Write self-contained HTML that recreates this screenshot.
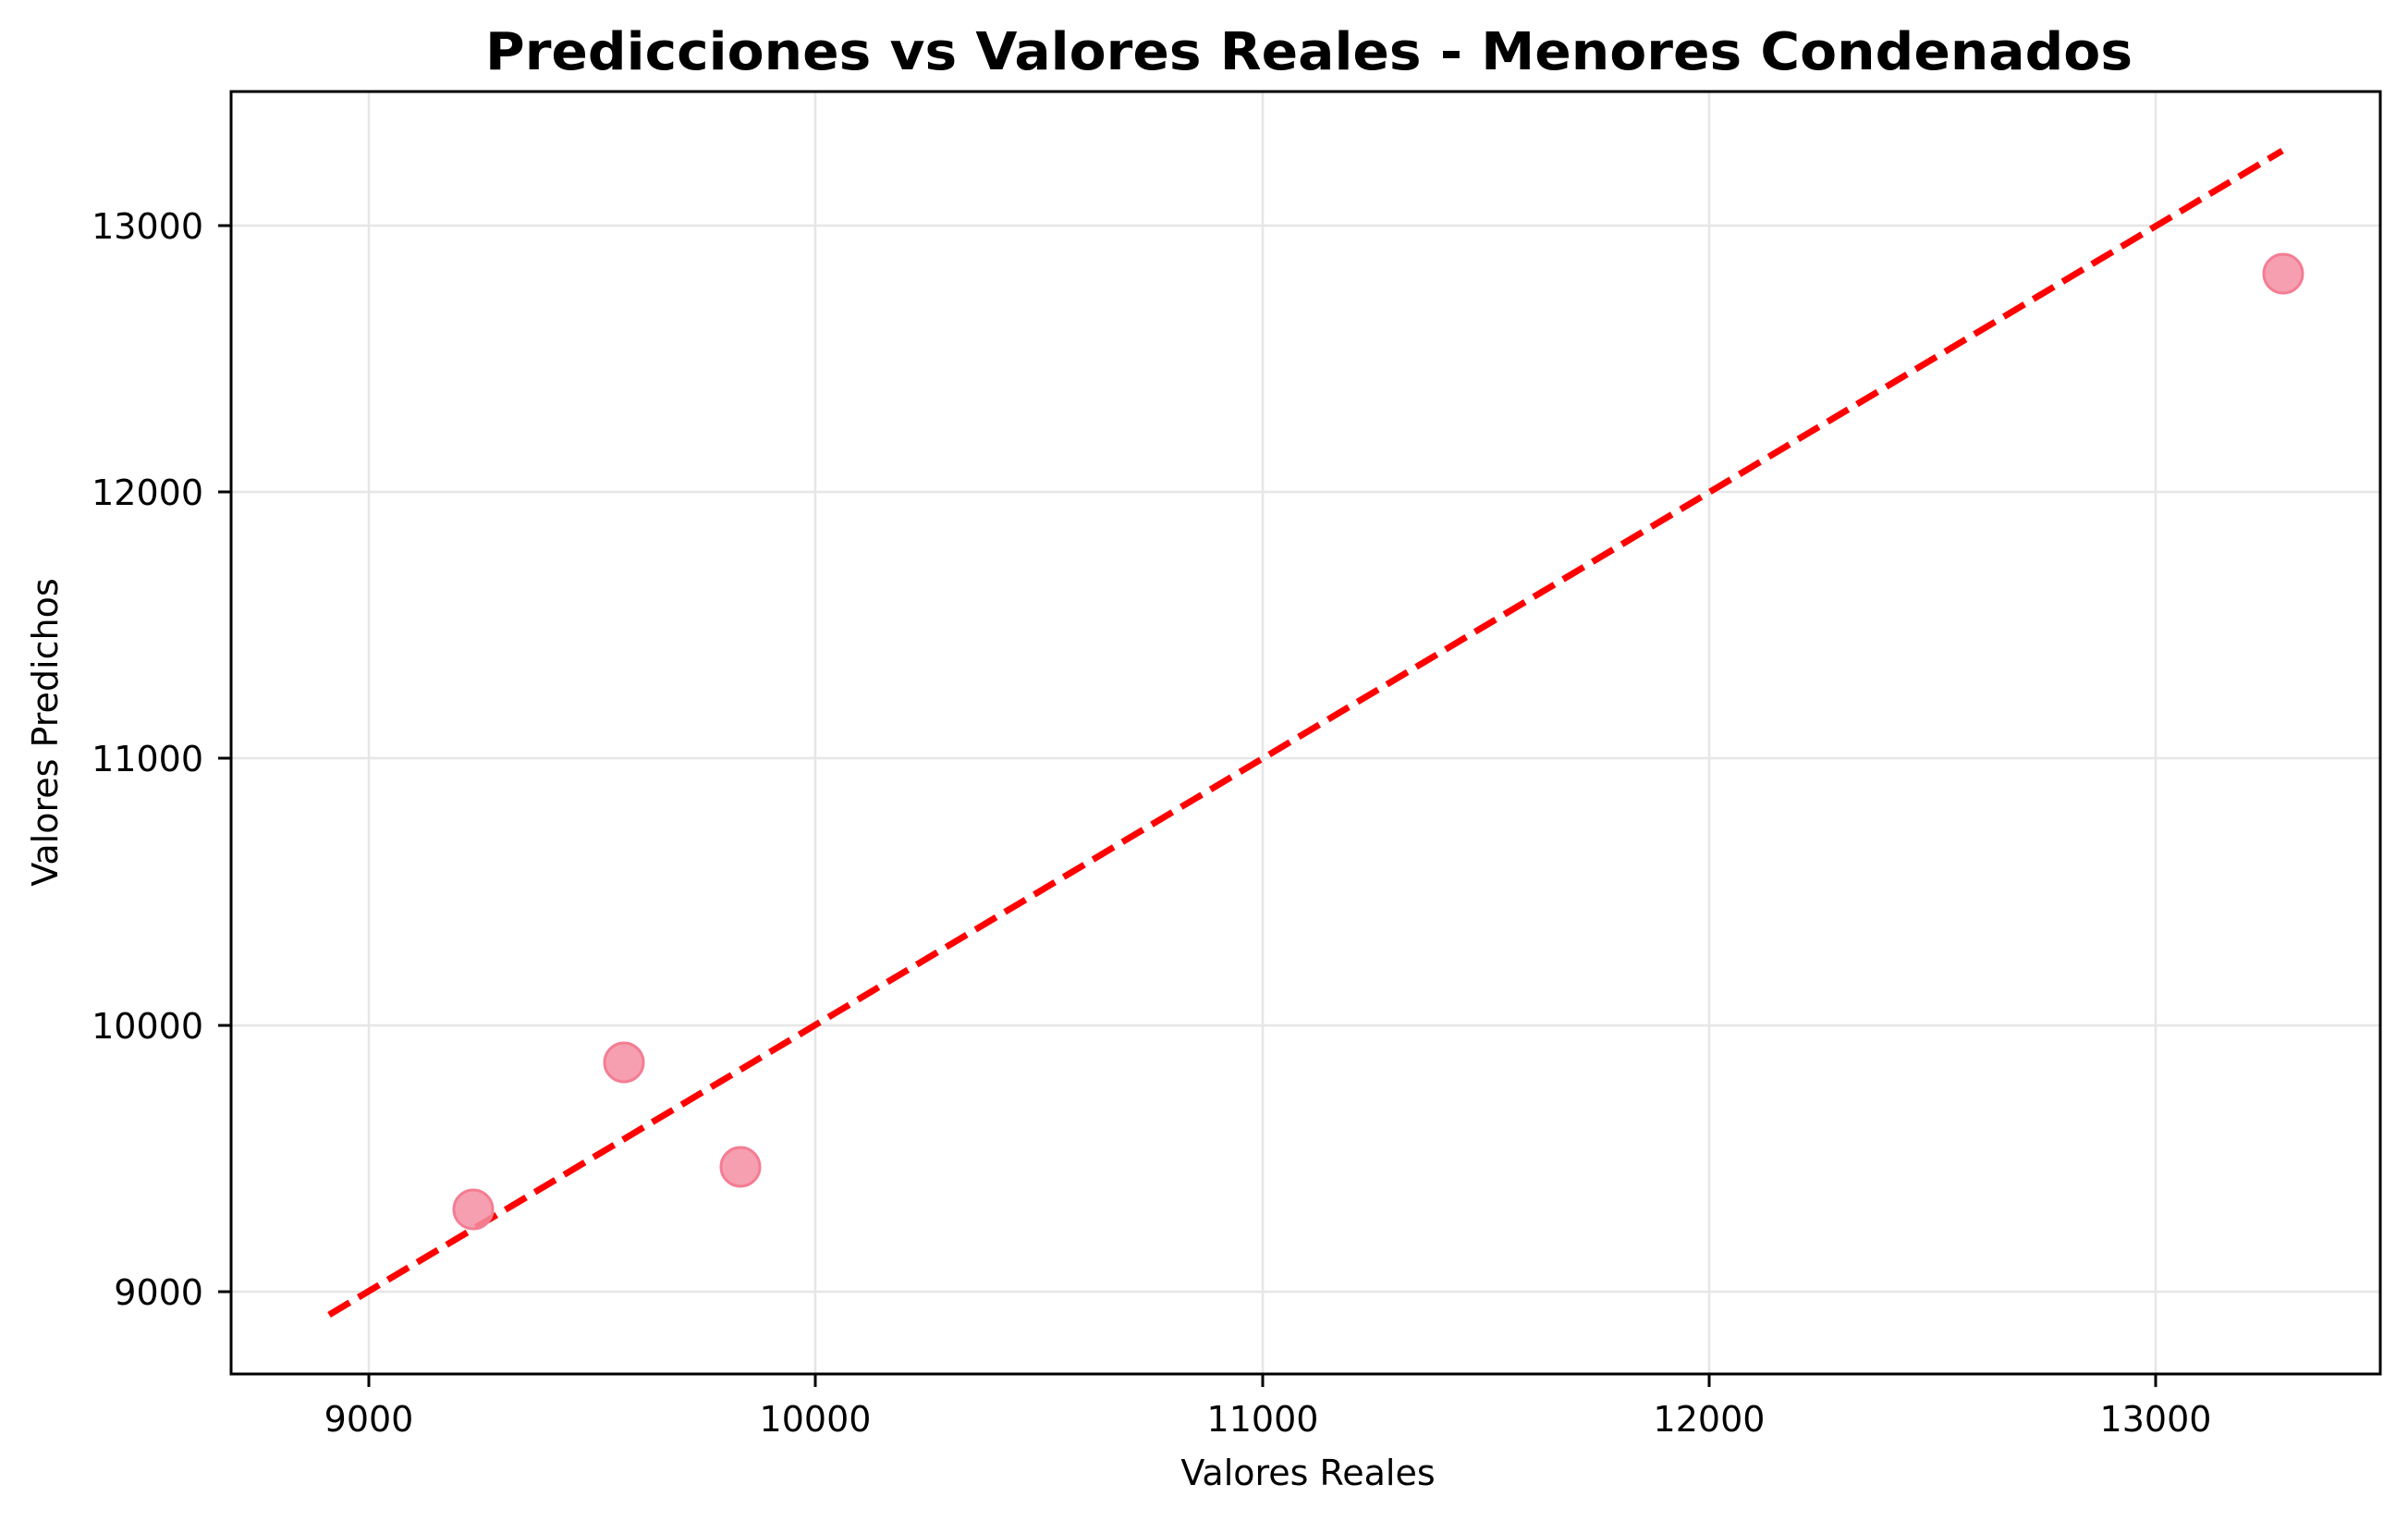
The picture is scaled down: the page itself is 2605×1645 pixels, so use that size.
<!DOCTYPE html>
<html><head><meta charset="utf-8"><style>
html,body{margin:0;padding:0;background:#fff;}
svg{display:block;}
text{font-family:"DejaVu Sans","Liberation Sans",sans-serif;fill:#000;}
</style></head><body>
<svg width="2605" height="1645" viewBox="0 0 2605 1645" xmlns="http://www.w3.org/2000/svg">
<rect width="2605" height="1645" fill="#fff"/>
<g stroke="#e6e6e6" stroke-width="2.5">
<line x1="399" y1="99" x2="399" y2="1486"/>
<line x1="882" y1="99" x2="882" y2="1486"/>
<line x1="1366" y1="99" x2="1366" y2="1486"/>
<line x1="1849" y1="99" x2="1849" y2="1486"/>
<line x1="2332" y1="99" x2="2332" y2="1486"/>
<line x1="250" y1="1397" x2="2575" y2="1397"/>
<line x1="250" y1="1109" x2="2575" y2="1109"/>
<line x1="250" y1="820" x2="2575" y2="820"/>
<line x1="250" y1="532" x2="2575" y2="532"/>
<line x1="250" y1="244" x2="2575" y2="244"/>
</g>
<line x1="356" y1="1422" x2="2469" y2="163" stroke="#ff0000" stroke-width="7" stroke-dasharray="26,11"/>
<g fill="#f48ea2" fill-opacity="0.85" stroke="#f47d93" stroke-width="3">
<circle cx="512" cy="1308" r="21"/>
<circle cx="675" cy="1149" r="21"/>
<circle cx="801" cy="1262" r="21"/>
<circle cx="2470" cy="296" r="21"/>
</g>
<rect x="250" y="99" width="2325" height="1387" fill="none" stroke="#000" stroke-width="3"/>
<g stroke="#000" stroke-width="3">
<line x1="399" y1="1486" x2="399" y2="1500"/>
<line x1="882" y1="1486" x2="882" y2="1500"/>
<line x1="1366" y1="1486" x2="1366" y2="1500"/>
<line x1="1849" y1="1486" x2="1849" y2="1500"/>
<line x1="2332" y1="1486" x2="2332" y2="1500"/>
<line x1="236" y1="1397" x2="250" y2="1397"/>
<line x1="236" y1="1109" x2="250" y2="1109"/>
<line x1="236" y1="820" x2="250" y2="820"/>
<line x1="236" y1="532" x2="250" y2="532"/>
<line x1="236" y1="244" x2="250" y2="244"/>
</g>
<g font-size="38" text-anchor="middle">
<text x="399" y="1548">9000</text>
<text x="882" y="1548">10000</text>
<text x="1366" y="1548">11000</text>
<text x="1849" y="1548">12000</text>
<text x="2332" y="1548">13000</text>
</g>
<g font-size="38" text-anchor="end">
<text x="220" y="1411">9000</text>
<text x="220" y="1123">10000</text>
<text x="220" y="834">11000</text>
<text x="220" y="546">12000</text>
<text x="220" y="258">13000</text>
</g>
<text x="1415" y="1606" font-size="38" text-anchor="middle">Valores Reales</text>
<text x="0" y="0" font-size="38" text-anchor="middle" transform="translate(62,792) rotate(-90)">Valores Predichos</text>
<text x="525" y="75" font-size="56" font-weight="bold" textLength="1782" lengthAdjust="spacingAndGlyphs">Predicciones vs Valores Reales - Menores Condenados</text>
</svg>
</body></html>
